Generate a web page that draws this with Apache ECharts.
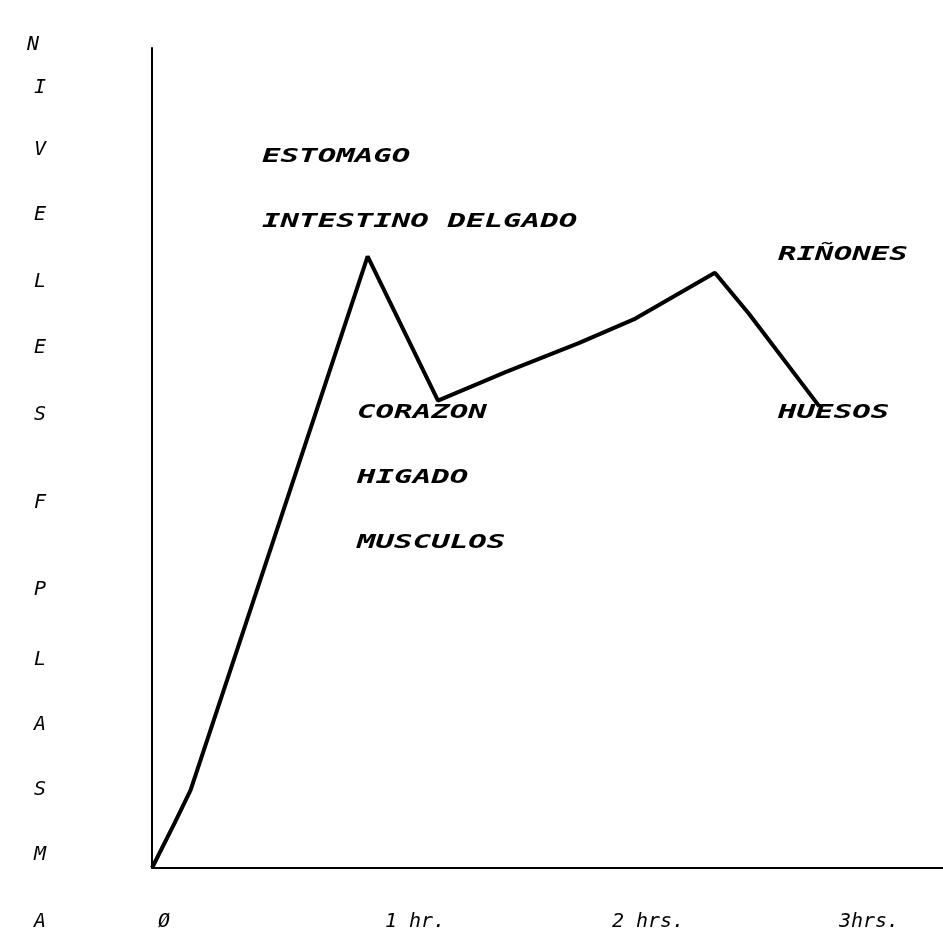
<!DOCTYPE html>
<html>
<head>
<meta charset="utf-8">
<script src="https://cdn.jsdelivr.net/npm/echarts@6/dist/echarts.min.js"></script>
<style>
  html, body { margin: 0; padding: 0; background: #fff; }
  #chart { width: 943px; height: 936px; }
</style>
</head>
<body>
<div id="chart"></div>
<script>
// time in hours, level in arbitrary units (0-100)
const hours = [0, 0.10, 0.17, 0.95, 1.26, 1.56, 1.88, 2.13, 2.48, 2.63, 2.94];
const levels = [0, 5.5, 9.5, 74.6, 57.0, 60.5, 64.0, 67.0, 72.6, 67.6, 56.3];
const tickLabels = ['Ø', '1 hr.', '2 hrs.', '3hrs.'];
const axisLetters = ['N', 'I', 'V', 'E', 'L', 'E', 'S', 'F', 'P', 'L', 'A', 'S', 'M', 'A'];
const organs = ['ESTOMAGO', 'INTESTINO DELGADO', 'RIÑONES', 'CORAZON', 'HIGADO', 'MUSCULOS', 'HUESOS'];

// layout (pixels)
const letterY = [45, 88, 150, 215, 282, 348, 415, 503, 590, 660, 725, 790, 855, 922];
const organPos = [[262, 157], [262, 222], [778, 255], [357, 413], [357, 478], [357, 543], [778, 413]];

const FONT = 'DejaVu Sans Mono';
const chart = echarts.init(document.getElementById('chart'));

const graphics = [];
axisLetters.forEach((ch, i) => {
  graphics.push({
    type: 'text', x: i === 0 ? 33 : 40, y: letterY[i],
    style: { text: ch, font: 'italic 20px "' + FONT + '"', fill: '#000', align: 'center', verticalAlign: 'middle' }
  });
});
organs.forEach((t, i) => {
  graphics.push({
    type: 'text', x: organPos[i][0], y: organPos[i][1], scaleX: 1.54,
    style: { text: t, font: 'italic bold 20px "' + FONT + '"', fill: '#000', align: 'left', verticalAlign: 'middle' }
  });
});

chart.setOption({
  backgroundColor: '#fff',
  animation: false,
  grid: { left: 152, right: 0, top: 48, bottom: 68, outerBoundsMode: 'none', containLabel: false },
  xAxis: {
    type: 'value', min: 0, max: 3.485, interval: 1,
    axisLine: { show: true, lineStyle: { color: '#000', width: 2 } },
    axisTick: { show: false },
    splitLine: { show: false },
    axisLabel: {
      color: '#000', fontFamily: FONT, fontStyle: 'italic', fontSize: 20,
      align: 'left', margin: 44, padding: [0, 0, 0, 6],
      showMaxLabel: false, hideOverlap: false,
      formatter: (v) => (Number.isInteger(v) ? tickLabels[v] || '' : '')
    }
  },
  yAxis: {
    type: 'value', min: 0, max: 100,
    axisLine: { show: true, lineStyle: { color: '#000', width: 2 } },
    axisTick: { show: false },
    splitLine: { show: false },
    axisLabel: { show: false }
  },
  series: [{
    type: 'line',
    data: hours.map((h, i) => [h, levels[i]]),
    symbol: 'none',
    lineStyle: { color: '#000', width: 4 }
  }],
  graphic: graphics
});
</script>
</body>
</html>
